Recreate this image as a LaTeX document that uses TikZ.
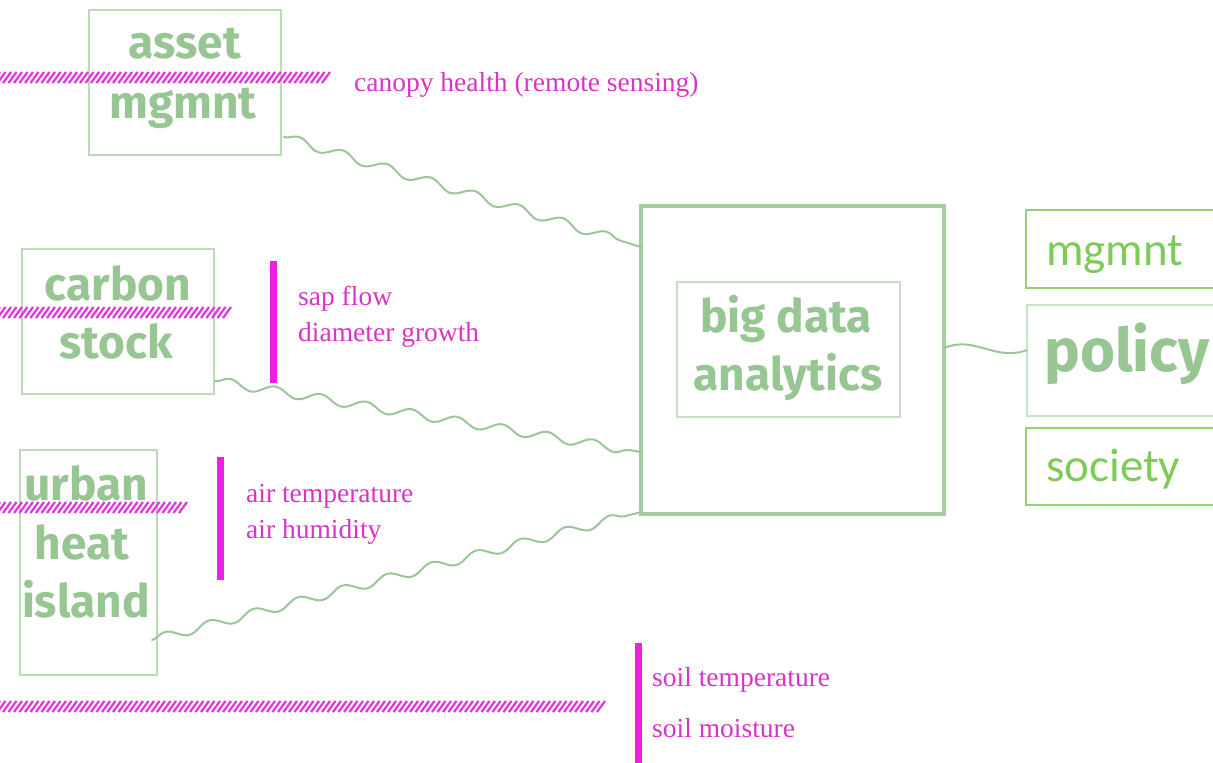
\documentclass[tikz,border=0pt]{standalone}
\usepackage{fontspec}
\usetikzlibrary{decorations.pathmorphing}
\newfontfamily\labfont{Fira Sans}
\newfontfamily\calfont{Carlito}
\newfontfamily\serfont{Liberation Serif}
\definecolor{tgreen}{HTML}{98C693}
\definecolor{bgreen}{HTML}{BCD9B8}
\definecolor{kgreen}{HTML}{A3CDA0}
\definecolor{cgreen}{HTML}{7FCB57}
\definecolor{wgreen}{HTML}{9CC69A}
\definecolor{mag}{HTML}{D834C8}
\definecolor{hat}{HTML}{E03ADA}
\definecolor{magbar}{HTML}{F01EE4}
\begin{document}
\begin{tikzpicture}[x=1pt,y=-1pt,
  lbox/.style={draw=bgreen,line width=1.6pt,inner sep=0pt},
  bigbox/.style={draw=kgreen,line width=4pt,inner sep=0pt},
  innerbox/.style={draw=bgreen!85!white,line width=1.3pt,inner sep=0pt},
  rbox/.style={draw=cgreen!85!white,line width=1.6pt,inner sep=0pt},
  pbox/.style={draw=bgreen!80!white,line width=2pt,inner sep=0pt},
  lab/.style={text=tgreen,font=\labfont\bfseries\fontsize{46}{50}\selectfont,inner sep=0pt,anchor=base},
  bigl/.style={text=tgreen,font=\labfont\bfseries\fontsize{60}{64}\selectfont,inner sep=0pt,anchor=base west},
  cal/.style={text=cgreen,font=\calfont\fontsize{47}{50}\selectfont,inner sep=0pt,anchor=base west},
  sens/.style={text=mag,font=\serfont\fontsize{27.5}{30}\selectfont,inner sep=0pt,anchor=base west},
  mbar/.style={draw=magbar,line width=7pt},
  hatch/.style={draw=hat,line width=2.3pt},
  wave/.style={draw=wgreen,line width=2pt,line cap=round,decorate,decoration={snake,amplitude=4.5pt,segment length=46pt}}
]
\useasboundingbox (0,0) rectangle (1213,763);
\fill[white] (0,0) rectangle (1213,763);

% left boxes
\node[lbox,minimum width=192pt,minimum height=145pt] (asset) at (185,82.5) {};
\node[lab] (t1) at (185,58) {asset};
\node[lab] (t2) at (183,118) {mgmnt};

\node[lbox,minimum width=192pt,minimum height=145pt] (carbon) at (118,321.5) {};
\node[lab] (t3) at (118,300) {carbon};
\node[lab] (t4) at (116,358) {stock};

\node[lbox,minimum width=137pt,minimum height=225pt] (urban) at (88.5,562.5) {};
\node[lab] (t5) at (86,500) {urban};
\node[lab] (t6) at (82,559) {heat};
\node[lab] (t7) at (86,617) {island};

% big box
\node[bigbox,minimum width=303pt,minimum height=308pt] (big) at (792.5,360) {};
\node[innerbox,minimum width=223pt,minimum height=135pt] (inner) at (788.5,349.5) {};
\node[lab] (t8) at (786,332) {big data};
\node[lab] (t9) at (788,390) {analytics};

% right boxes
\node[rbox,minimum width=200pt,minimum height=78pt] (rm) at (1126,249) {};
\node[cal] (t10) at (1046,265) {mgmnt};
\node[pbox,minimum width=200pt,minimum height=111pt] (rp) at (1127,360.5) {};
\node[bigl] (t11) at (1044,371) {policy};
\node[rbox,minimum width=200pt,minimum height=77pt] (rs) at (1126,466.5) {};
\node[cal] (t12) at (1046,481) {society};

% sensor texts
\node[sens] (s1) at (354,91) {canopy health (remote sensing)};
\node[sens] (s2) at (298,305) {sap flow};
\node[sens] (s3) at (298,341) {diameter growth};
\node[sens] (s4) at (246,502) {air temperature};
\node[sens] (s5) at (246,538) {air humidity};
\node[sens] (s6) at (652,686) {soil temperature};
\node[sens] (s7) at (652,737) {soil moisture};

% magenta bars
\coordinate (b1a) at (273,261); \coordinate (b1b) at (273,383);
\coordinate (b2a) at (220.5,457); \coordinate (b2b) at (220.5,580);
\coordinate (b3a) at (638,643); \coordinate (b3b) at (638,763);
\draw[mbar] (b1a) -- (b1b);
\draw[mbar] (b2a) -- (b2b);
\draw[mbar] (b3a) -- (b3b);

% hatch bands
\foreach \x in {-8,-2.5,...,325} \draw[hatch] (\x,83) -- (\x+8,72);
\foreach \x in {-8,-2.5,...,224} \draw[hatch] (\x,318) -- (\x+8,307);
\foreach \x in {-8,-2.5,...,184} \draw[hatch] (\x,513) -- (\x+8,502);
\foreach \x in {-8,-2.5,...,598} \draw[hatch] (\x,712) -- (\x+8,701);

% wavy connectors
\coordinate (w1a) at (284,137); \coordinate (w1b) at (641,247);
\coordinate (w2a) at (215,381); \coordinate (w2b) at (641,452);
\coordinate (w3a) at (152,640); \coordinate (w3b) at (641,512);
\draw[wave] (w1a) -- (w1b);
\draw[wave] (w2a) -- (w2b);
\draw[wave] (w3a) -- (w3b);
\coordinate (w4a) at (944,348); \coordinate (w4b) at (1027,350);
\draw[draw=wgreen,line width=2pt] (w4a) .. controls (975,335) and (995,362) .. (w4b);
\end{tikzpicture}
\end{document}
